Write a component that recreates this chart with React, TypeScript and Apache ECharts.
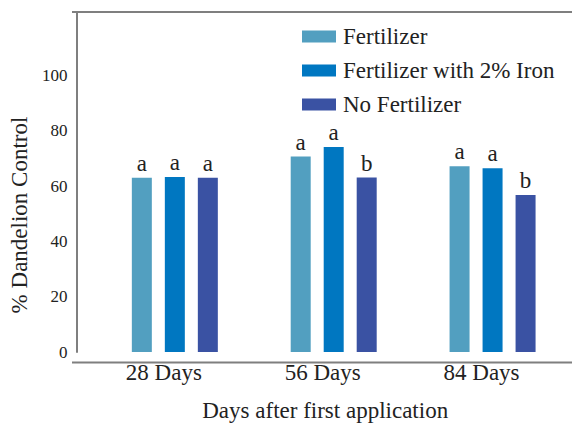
import React, { useEffect, useRef } from "react";
import * as echarts from "echarts";

const categories = ["28 Days", "56 Days", "84 Days"];
const seriesNames = ["Fertilizer", "Fertilizer with 2% Iron", "No Fertilizer"];
const fertilizer = [63.0, 70.7, 67.2];
const fertilizerIron = [63.3, 74.2, 66.5];
const noFertilizer = [63.0, 63.1, 56.8];
const fertilizerLetters = ["a", "a", "a"];
const fertilizerIronLetters = ["a", "a", "a"];
const noFertilizerLetters = ["a", "b", "b"];
const yTicks = [0, 20, 40, 60, 80, 100];

const colors = ["#529FC0", "#0077C1", "#3A52A3"];
const FONT = "Liberation Serif";
const TEXT = "#222222";
const AXIS = "#7F7F7F";

export default function App() {
  const ref = useRef<HTMLDivElement>(null);
  useEffect(() => {
    if (!ref.current) return;
    const chart = echarts.init(ref.current, null, { renderer: "svg" });
    const data = [fertilizer, fertilizerIron, noFertilizer];
    const letters = [fertilizerLetters, fertilizerIronLetters, noFertilizerLetters];
    const gridLeft = 92;
    const gridTop = 12;
    const gridHeight = 350.5;
    chart.setOption({
      animation: false,
      textStyle: { fontFamily: FONT },
      grid: { left: gridLeft, top: gridTop, width: 485, height: gridHeight },
      legend: {
        orient: "vertical",
        left: 297,
        top: 20,
        itemWidth: 34,
        itemHeight: 12,
        itemGap: 11,
        icon: "rect",
        data: seriesNames,
        textStyle: { fontFamily: FONT, fontSize: 23, color: TEXT, padding: [0, 0, 0, 2] },
      },
      xAxis: {
        type: "category",
        data: categories,
        axisLine: { show: false },
        axisTick: { show: false },
        axisLabel: {
          fontFamily: FONT,
          fontSize: 23,
          color: TEXT,
          margin: 9,
          padding: [0, 22, 0, 0],
        },
        name: "Days after first application",
        nameLocation: "middle",
        nameGap: 47,
        nameTextStyle: { fontFamily: FONT, fontSize: 23, color: TEXT, padding: [0, 17, 0, 0] },
      },
      yAxis: {
        type: "value",
        min: 0,
        max: 123,
        interval: 20,
        offset: 19,
        axisLine: { show: true, lineStyle: { color: AXIS, width: 2 } },
        axisTick: { show: false },
        splitLine: { show: false },
        axisLabel: {
          fontFamily: FONT,
          fontSize: 17,
          color: TEXT,
          margin: 9,
          formatter: (v: number) => (yTicks.includes(v) ? String(v) : ""),
        },
        name: "% Dandelion Control",
        nameLocation: "middle",
        nameGap: 40,
        nameTextStyle: { fontFamily: FONT, fontSize: 23, color: TEXT, padding: [0, 66, 0, 0] },
      },
      series: seriesNames.map((name, i) => ({
        name,
        type: "bar",
        barWidth: 20,
        barGap: "65%",
        itemStyle: { color: colors[i] },
        data: data[i],
        label: {
          show: true,
          position: "top",
          distance: 3,
          fontFamily: FONT,
          fontSize: 23,
          color: TEXT,
          formatter: (p: any) => letters[i][p.dataIndex],
        },
      })),
      graphic: [
        {
          type: "line",
          shape: { x1: 72, y1: gridTop, x2: 572, y2: gridTop },
          style: { stroke: AXIS, lineWidth: 2 },
        },
        {
          type: "line",
          shape: { x1: 72, y1: gridTop + gridHeight, x2: 572, y2: gridTop + gridHeight },
          style: { stroke: AXIS, lineWidth: 2 },
        },
      ],
    });
    return () => chart.dispose();
  }, []);
  return <div ref={ref} style={{ width: 572, height: 427, position: "absolute", left: 0, top: 0 }} />;
}
